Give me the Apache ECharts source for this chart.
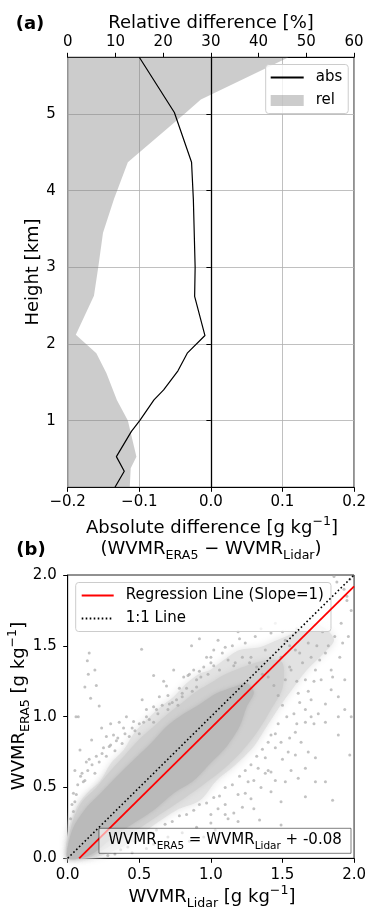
<!DOCTYPE html>
<html><head><meta charset="utf-8">
<script src="https://cdn.jsdelivr.net/npm/echarts@6/dist/echarts.min.js"></script>
<style>html,body{margin:0;padding:0;background:#fff}#c{width:369px;height:908px}</style>
</head><body><div id="c"></div>
<script>
// ---------- panel (a) data ----------
const absHeights = [5.74, 5.02, 4.37, 3.89, 3.0, 2.62, 2.11, 1.88, 1.65, 1.40, 1.27, 1.0, 0.86, 0.53, 0.34, 0.13];
const absValues  = [-0.100, -0.051, -0.027, -0.0245, -0.022, -0.0227, -0.0083, -0.033, -0.046, -0.066, -0.0795, -0.0994, -0.111, -0.132, -0.121, -0.134];
const relHeights = [5.74, 5.19, 5.02, 4.37, 3.89, 3.45, 3.0, 2.63, 2.12, 1.88, 1.62, 1.27, 1.0, 0.53, 0.38, 0.13];
const relValues  = [46.3, 27.9, 24.8, 12.6, 9.7, 7.4, 6.4, 5.5, 1.7, 6.0, 8.1, 10.3, 12.6, 14.4, 13.2, 13.0];
const heightTicks = [1, 2, 3, 4, 5];

// ---------- panel (b) data ----------
const regLine = [[0.08, 0.0], [2.0, 1.92]];
const oneToOne = [[0, 0], [2, 2]];
// envelopes of the point cloud at three density levels
const outerCloud = [[0,0],[0,0.18],[0.065,0.364],[0.135,0.46],[0.23,0.55],[0.30,0.67],[0.39,0.765],[0.46,0.88],[0.55,0.976],[0.65,1.07],[0.74,1.14],[0.83,1.235],[0.925,1.306],[0.995,1.33],[1.09,1.40],[1.20,1.47],[1.34,1.49],[1.46,1.54],[1.58,1.59],[1.7,1.66],[1.8,1.62],[1.86,1.54],[1.79,1.45],[1.67,1.33],[1.58,1.21],[1.48,1.07],[1.39,0.93],[1.30,0.79],[1.16,0.65],[1.04,0.55],[0.925,0.41],[0.76,0.34],[0.58,0.22],[0.45,0.12],[0.34,0.06],[0.2,0.01],[0.09,0]];
const innerCloud = [[0,0],[0,0.1],[0.04,0.28],[0.1,0.4],[0.2,0.5],[0.3,0.62],[0.4,0.73],[0.5,0.84],[0.6,0.93],[0.7,1.02],[0.8,1.1],[0.9,1.18],[1.0,1.24],[1.1,1.3],[1.25,1.36],[1.4,1.4],[1.5,1.38],[1.5,1.2],[1.42,1.05],[1.33,0.9],[1.22,0.76],[1.1,0.64],[1.0,0.56],[0.88,0.47],[0.75,0.38],[0.6,0.28],[0.45,0.18],[0.3,0.09],[0.18,0.02],[0.12,0]];
const coreCloud = [[0,0],[0,0.08],[0.04,0.22],[0.135,0.364],[0.23,0.46],[0.34,0.576],[0.46,0.694],[0.58,0.81],[0.69,0.93],[0.81,1.02],[0.925,1.09],[1.04,1.165],[1.16,1.21],[1.25,1.235],[1.3,1.17],[1.25,1.07],[1.20,0.93],[1.11,0.79],[0.995,0.67],[0.88,0.55],[0.74,0.46],[0.60,0.34],[0.46,0.247],[0.32,0.15],[0.18,0.035],[0.09,0]];
const sparsePoints = [
[0.15,1.45],[0.137,1.395],[0.19,1.33],[0.144,1.30],[0.20,1.22],[0.12,1.21],[0.16,1.13],[0.22,1.075],[0.074,1.0],[0.058,1.0],[0.516,1.475],[0.60,1.29],[0.69,1.216],[0.865,1.5],[0.92,1.55],[0.237,0.92],[0.167,0.835],[0.086,0.765],[0.13,0.68],[0.05,0.62],[0.109,0.54],[0.04,0.46],[0.04,0.33],[0.32,0.87],[0.39,0.92],[0.46,0.965],[0.64,1.14],[0.71,1.09],[0.55,1.05],[0.60,1.07],[0.41,1.0],[0.81,1.28],[0.84,1.29],[0.88,1.33],[0.95,1.35],[0.97,1.42],[0.90,1.21],[0.76,1.12],[0.80,1.165],[0.30,0.95],[0.27,0.86],[0.36,0.96],[0.52,1.12],[0.67,1.25],[0.74,1.33],[1.02,1.47],
[1.98,1.75],[1.96,1.565],[1.935,1.26],[1.89,1.14],[1.84,1.33],[1.80,1.45],[1.05,1.54],[1.10,1.49],[1.0,1.38],[1.19,1.6],[1.31,1.565],[1.42,1.59],[1.52,1.54],[1.59,1.47],[1.70,1.42],[1.73,1.33],[1.77,1.26],[1.66,1.26],[1.56,1.33],[1.49,1.42],[1.38,1.47],[1.28,1.42],[1.24,1.52],[1.17,1.38],[1.84,1.19],[1.80,1.09],[1.70,1.12],[1.61,1.165],[1.52,1.26],[1.935,1.05],[1.98,1.0],[1.89,1.0],[1.75,1.02],[1.66,1.05],[1.88,1.95],[1.93,1.9],[1.97,1.97],[1.86,1.99],[1.95,1.85],[1.865,1.565],[1.91,1.66],[1.95,1.82],[1.6,1.62],[1.7,1.7],[1.78,1.6],[1.45,1.66],[1.35,1.62],
[1.97,0.73],[1.89,0.87],[1.80,0.54],[1.73,0.71],[1.66,0.635],[1.61,0.565],[1.54,0.75],[1.52,0.54],[1.42,0.47],[1.49,0.40],[1.34,0.27],[1.85,0.41],[1.66,0.435],[1.30,0.35],[1.24,0.46],[1.16,0.32],[1.10,0.38],[1.80,0.96],[1.66,0.96],[1.59,0.89],[1.49,0.82],[1.42,0.87],[1.38,0.71],[1.33,0.635],[1.42,0.61],[1.26,0.54],[1.19,0.45],[1.10,0.31],[1.05,0.35],[1.0,0.31],[1.19,0.26],[1.49,0.235],[1.73,0.54],[1.59,0.73],
[0.7,0.15],[0.8,0.18],[0.9,0.22],[0.6,0.1],[0.85,0.12],[1.0,0.25],[0.95,0.15],[0.55,0.07],[0.45,0.04],
[0.05,0.4],[0.1,0.6],[0.15,0.7],[0.2,0.72],[0.25,0.78],[0.3,0.8],[0.35,0.85],[0.45,0.92],[0.5,0.95],[0.55,1.0],[0.62,1.05],[0.7,1.15],[0.78,1.2],[0.85,1.3],[0.92,1.32],[1.0,1.42],[1.08,1.45],[1.15,1.5],[1.2,1.55],[1.3,0.55],[1.4,0.62],[1.5,0.7],[1.55,0.85],[1.6,0.95],[1.7,1.0],[1.45,0.78],[1.35,0.5],
[0.02,0.28],[0.03,0.38],[0.06,0.45],[0.07,0.52],[0.09,0.58],[0.12,0.55],[0.14,0.62],[0.17,0.66],[0.19,0.6],[0.22,0.68],[0.24,0.74],[0.27,0.72],[0.29,0.79],[0.33,0.76],[0.34,0.83],[0.38,0.81],[0.4,0.88],[0.43,0.86],[0.47,0.9],[0.5,0.88],[0.53,0.96],[0.57,0.98],[0.6,0.96],[0.63,1.02],[0.66,1.08],[0.7,1.05],[0.73,1.1],[0.77,1.08],[0.8,1.14],[0.83,1.2],[0.87,1.18],[0.9,1.26],[0.93,1.28],[0.98,1.3],[1.02,1.36],[1.06,1.33],[1.12,1.4],[1.16,1.36],[1.22,1.42],[1.27,1.38],[1.32,1.35],[1.36,1.3],[1.4,1.28],[1.44,1.22],[1.47,1.15],[1.5,1.08],[1.53,1.0],[1.47,0.95],[1.45,0.88],[1.4,0.82],[1.36,0.77],[1.32,0.72],[1.28,0.66],[1.24,0.62],[1.2,0.58],[1.15,0.52],[1.1,0.5],[1.06,0.44],[1.02,0.43],[0.97,0.39],[0.92,0.38],[0.88,0.34],[0.83,0.31],[0.78,0.3],[0.73,0.26],[0.68,0.24],[0.62,0.2],[0.58,0.18],[0.52,0.14],[0.47,0.12],[0.42,0.08],[0.37,0.06],[0.33,0.03],[0.28,0.02],
[1.55,1.35],[1.6,1.25],[1.62,1.1],[1.58,1.02],[1.68,1.18],[1.72,0.95],[1.56,0.62],[1.63,0.82],[1.68,0.75],[1.45,0.55],[1.38,0.6],[1.28,0.42],[1.22,0.36],[1.12,0.28],[1.03,0.2],
[1.62,1.45],[1.68,1.52],[1.74,1.5],[1.76,1.4],[1.82,1.5],[1.55,1.5],[1.5,1.6],[1.64,1.38],[1.72,1.25],[1.9,1.42],[1.92,1.52],[1.85,1.28]
];
const fitLabel = ['WVMR', 'ERA5', ' = WVMR', 'Lidar', ' + -0.08'];

// ---------- helpers ----------
const F = 'DejaVu Sans';
const minus = s => String(s).replace('-', '\u2212');
function rich(fs) {
  return {
    b: {fontSize: fs, fontFamily: F, lineHeight: Math.round(fs * 1.45), color: '#000'},
    s: {fontSize: fs * 0.7, fontFamily: F, lineHeight: Math.round(fs * 0.9), verticalAlign: 'bottom', color: '#000'},
    p: {fontSize: fs * 0.7, fontFamily: F, lineHeight: Math.round(fs * 0.9), verticalAlign: 'top', color: '#000'},
    bb: {fontSize: fs, fontFamily: F, fontWeight: 'bold', lineHeight: Math.round(fs * 1.45), color: '#000'}
  };
}
function txt(x, y, text, fs, rot) {
  return {type: 'text', x: x, y: y, rotation: rot || 0, z: 100, silent: true,
    style: {text: text, rich: rich(fs), align: 'center', verticalAlign: 'middle'}};
}
function poly(name, pts, xi, yi, color, z, blur) {
  return {
    name: name, type: 'custom', coordinateSystem: 'cartesian2d', xAxisIndex: xi, yAxisIndex: yi, z: z,
    silent: true, itemStyle: {color: color}, data: pts, encode: {x: 0, y: 1},
    renderItem: function (params, api) {
      if (params.dataIndex !== 0) return null;
      return {type: 'polygon', shape: {points: pts.map(p => api.coord(p)), smooth: blur ? 0.3 : 0},
        style: {fill: color, shadowBlur: blur || 0, shadowColor: color}};
    }
  };
}
const axisLab = (m, fmt) => ({fontSize: 15, fontFamily: F, color: '#000', margin: m, formatter: fmt});
const tick = {show: true, length: 4.5, lineStyle: {color: '#000', width: 1}};
const aLine = {show: true, lineStyle: {color: '#000', width: 1}};
const legendBase = {
  orient: 'vertical', itemWidth: 33, itemHeight: 11, itemGap: 7, selectedMode: false,
  backgroundColor: 'rgba(255,255,255,0.8)', borderColor: '#cccccc', borderWidth: 1, borderRadius: 3,
  textStyle: {fontSize: 15, fontFamily: F, color: '#000', lineHeight: 16, padding: [0, 0, 0, 7]}
};
const noSym = {opacity: 0};

const relPoly = [[0, relHeights[0]]].concat(relValues.map((v, i) => [v, relHeights[i]])).concat([[0, relHeights[relHeights.length - 1]]]);

const chart = echarts.init(document.getElementById('c'), null, {renderer: 'canvas'});
chart.setOption({
  animation: false,
  grid: [
    {left: 67.7, top: 57.3, width: 288.3, height: 430, show: true, borderColor: '#000', borderWidth: 1, backgroundColor: 'transparent'},
    {left: 67.7, top: 575, width: 286.6, height: 283.3, show: true, borderColor: '#222', borderWidth: 1, backgroundColor: 'transparent'}
  ],
  xAxis: [
    {gridIndex: 0, type: 'value', position: 'bottom', min: -0.2, max: 0.2, interval: 0.1,
     axisLine: aLine, axisTick: tick, axisLabel: axisLab(7, v => minus(v.toFixed(1))),
     splitLine: {show: true, lineStyle: {color: '#b0b0b0', width: 0.8}}},
    {gridIndex: 0, type: 'value', position: 'top', min: 0, max: 60, interval: 10,
     axisLine: aLine, axisTick: tick, axisLabel: axisLab(8, v => String(v)), splitLine: {show: false}},
    {gridIndex: 1, type: 'value', position: 'bottom', min: 0, max: 2, interval: 0.5,
     axisLine: aLine, axisTick: tick, axisLabel: axisLab(9, v => v.toFixed(1)), splitLine: {show: false}}
  ],
  yAxis: [
    {gridIndex: 0, type: 'value', min: 0.13, max: 5.74, splitNumber: 5,
     axisLine: aLine,
     axisTick: Object.assign({customValues: heightTicks}, tick),
     axisLabel: Object.assign({customValues: heightTicks}, axisLab(12, v => Math.abs(v - Math.round(v)) < 1e-6 ? String(Math.round(v)) : '')),
     splitLine: {show: true, lineStyle: {color: '#b0b0b0', width: 0.8}}},
    {gridIndex: 1, type: 'value', min: 0, max: 2, interval: 0.5,
     axisLine: aLine, axisTick: tick, axisLabel: axisLab(11, v => v.toFixed(1)), splitLine: {show: false}}
  ],
  legend: [
    Object.assign({}, legendBase, {left: 265.7, top: 64.5, padding: [5, 6, 5, 4],
      data: [{name: 'abs', itemStyle: noSym}, {name: 'rel', icon: 'rect'}]}),
    Object.assign({}, legendBase, {left: 75.7, top: 582.5, padding: [5, 7, 5, 5], itemWidth: 32,
      data: [{name: 'Regression Line (Slope=1)', itemStyle: noSym}, {name: '1:1 Line', itemStyle: noSym}]})
  ],
  series: [
    poly('rel', relPoly, 1, 0, 'rgba(128,128,128,0.4)', 2, 0),
    {name: 'abs', type: 'line', xAxisIndex: 0, yAxisIndex: 0, z: 4, symbol: 'none', silent: true,
     data: absValues.map((v, i) => [v, absHeights[i]]),
     lineStyle: {color: '#000', width: 1.2}, itemStyle: {color: '#000'},
     markLine: {silent: true, symbol: 'none', label: {show: false}, animation: false,
       lineStyle: {color: '#000', width: 1.3, type: 'solid'}, data: [{xAxis: 0}]}},
    poly('outer', outerCloud, 2, 1, '#e2e2e2', 1, 8),
    poly('inner', innerCloud, 2, 1, '#cfcfcf', 1, 6),
    poly('core', coreCloud, 2, 1, '#bababa', 1, 4),
    {name: 'points', type: 'scatter', xAxisIndex: 2, yAxisIndex: 1, z: 2, silent: true,
     symbolSize: 3, data: sparsePoints, itemStyle: {color: 'rgba(165,165,165,0.85)'}},
    {name: '1:1 Line', type: 'line', xAxisIndex: 2, yAxisIndex: 1, z: 4, symbol: 'none', silent: true,
     data: oneToOne, lineStyle: {color: '#000', width: 1.6, type: [1.6, 2.4]}, itemStyle: {color: '#000'}},
    {name: 'Regression Line (Slope=1)', type: 'line', xAxisIndex: 2, yAxisIndex: 1, z: 5, symbol: 'none', silent: true,
     data: regLine, lineStyle: {color: '#ff0000', width: 1.8}, itemStyle: {color: '#ff0000'}}
  ],
  graphic: [
    txt(30, 24, '{bb|(a)}', 18),
    txt(211, 23, '{b|Relative difference [%]}', 18),
    txt(33, 272, '{b|Height [km]}', 18, Math.PI / 2),
    txt(212, 528, '{b|Absolute difference [g kg}{p|\u22121}{b|]}', 18),
    txt(211, 549, '{b|(WVMR}{s|ERA5}{b| \u2212 WVMR}{s|Lidar}{b|)}', 18),
    txt(31, 550, '{bb|(b)}', 18),
    txt(212, 897, '{b|WVMR}{s|Lidar}{b| [g kg}{p|\u22121}{b|]}', 18),
    txt(19, 706, '{b|WVMR}{s|ERA5}{b| [g kg}{p|\u22121}{b|]}', 18, Math.PI / 2),
    {type: 'rect', z: 99, silent: true, shape: {x: 99, y: 828.3, width: 252, height: 25},
     style: {fill: 'rgba(255,255,255,0.6)', stroke: 'rgba(0,0,0,0.5)', lineWidth: 1}},
    txt(225, 840.5, '{b|' + fitLabel[0] + '}{s|' + fitLabel[1] + '}{b|' + fitLabel[2] + '}{s|' + fitLabel[3] + '}{b|' + fitLabel[4] + '}', 15)
  ]
});
</script></body></html>
